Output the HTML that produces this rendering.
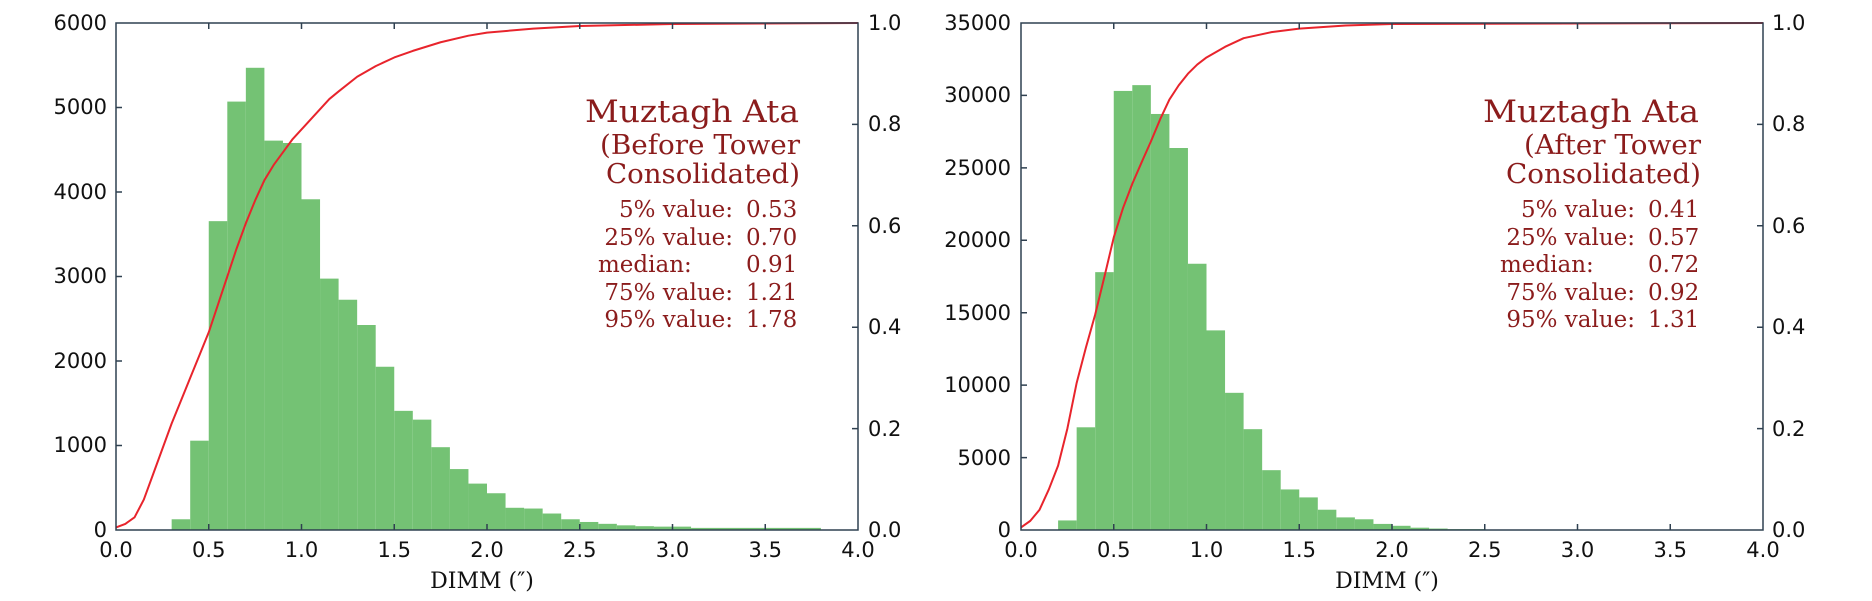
<!DOCTYPE html>
<html><head><meta charset="utf-8"><style>
html,body{margin:0;padding:0;background:#fff;}
svg{display:block}
.tk{font-family:"DejaVu Sans","Liberation Sans",sans-serif;font-size:21px;fill:#111}
.sr{font-family:"DejaVu Serif","Liberation Serif",serif;fill:#8b1c1c}
</style></head><body>
<svg width="1872" height="601" viewBox="0 0 1872 601" xmlns="http://www.w3.org/2000/svg">
<!-- LEFT -->
<g transform="translate(116,530) scale(185.5,-0.0845)" fill="#74c274">
<rect x="0.3" y="0" width="0.1" height="127"/>
<rect x="0.4" y="0" width="0.1" height="1057"/>
<rect x="0.5" y="0" width="0.1" height="3655"/>
<rect x="0.6" y="0" width="0.1" height="5070"/>
<rect x="0.7" y="0" width="0.1" height="5470"/>
<rect x="0.8" y="0" width="0.1" height="4608"/>
<rect x="0.9" y="0" width="0.1" height="4580"/>
<rect x="1.0" y="0" width="0.1" height="3914"/>
<rect x="1.1" y="0" width="0.1" height="2975"/>
<rect x="1.2" y="0" width="0.1" height="2725"/>
<rect x="1.3" y="0" width="0.1" height="2426"/>
<rect x="1.4" y="0" width="0.1" height="1932"/>
<rect x="1.5" y="0" width="0.1" height="1410"/>
<rect x="1.6" y="0" width="0.1" height="1306"/>
<rect x="1.7" y="0" width="0.1" height="980"/>
<rect x="1.8" y="0" width="0.1" height="721"/>
<rect x="1.9" y="0" width="0.1" height="549"/>
<rect x="2.0" y="0" width="0.1" height="435"/>
<rect x="2.1" y="0" width="0.1" height="263"/>
<rect x="2.2" y="0" width="0.1" height="254"/>
<rect x="2.3" y="0" width="0.1" height="195"/>
<rect x="2.4" y="0" width="0.1" height="127"/>
<rect x="2.5" y="0" width="0.1" height="95"/>
<rect x="2.6" y="0" width="0.1" height="73"/>
<rect x="2.7" y="0" width="0.1" height="55"/>
<rect x="2.8" y="0" width="0.1" height="45"/>
<rect x="2.9" y="0" width="0.1" height="40"/>
<rect x="3.0" y="0" width="0.1" height="40"/>
<rect x="3.1" y="0" width="0.7" height="25"/>
</g>
<g transform="translate(116,530) scale(185.5,-507)">
<polyline fill="none" stroke="#e8242c" stroke-width="2" stroke-linejoin="round" vector-effect="non-scaling-stroke" points="0,0.005 0.05,0.012 0.1,0.025 0.15,0.06 0.2,0.11 0.25,0.16 0.3,0.21 0.35,0.255 0.4,0.3 0.45,0.345 0.5,0.39 0.55,0.445 0.6,0.5 0.65,0.555 0.7,0.605 0.75,0.65 0.8,0.69 0.85,0.72 0.9,0.745 0.95,0.77 1.0,0.79 1.05,0.81 1.1,0.83 1.15,0.85 1.2,0.865 1.3,0.894 1.4,0.915 1.5,0.932 1.6,0.945 1.75,0.962 1.9,0.975 2.0,0.981 2.25,0.989 2.5,0.994 3.0,0.998 4.0,1"/>
</g>
<g stroke="#2f4050" stroke-width="1.5" fill="none">
<rect x="116" y="23" width="742" height="507"/>
<path d="M208.75 530v-6M301.5 530v-6M394.25 530v-6M487 530v-6M579.75 530v-6M672.5 530v-6M765.25 530v-6M208.75 23v6M301.5 23v6M394.25 23v6M487 23v6M579.75 23v6M672.5 23v6M765.25 23v6
M116 445.5h6M116 361h6M116 276.5h6M116 192h6M116 107.5h6
M858 428.6h-6M858 327.2h-6M858 225.8h-6M858 124.4h-6"/>
</g>
<g class="tk" text-anchor="end">
<text x="107" y="537">0</text><text x="107" y="452">1000</text><text x="107" y="368">2000</text><text x="107" y="283">3000</text><text x="107" y="199">4000</text><text x="107" y="114">5000</text><text x="107" y="30">6000</text>
</g>
<g class="tk">
<text x="868" y="537">0.0</text><text x="868" y="436">0.2</text><text x="868" y="334">0.4</text><text x="868" y="233">0.6</text><text x="868" y="131">0.8</text><text x="868" y="30">1.0</text>
</g>
<g class="tk" text-anchor="middle">
<text x="116" y="557">0.0</text><text x="208.75" y="557">0.5</text><text x="301.5" y="557">1.0</text><text x="394.25" y="557">1.5</text><text x="487" y="557">2.0</text><text x="579.75" y="557">2.5</text><text x="672.5" y="557">3.0</text><text x="765.25" y="557">3.5</text><text x="858" y="557">4.0</text>
</g>
<text x="482" y="588" text-anchor="middle" font-family="'DejaVu Serif','Liberation Serif',serif" font-size="22" fill="#111">DIMM (″)</text>
<g class="sr">
<text x="585" y="122" font-size="31" textLength="214" lengthAdjust="spacingAndGlyphs">Muztagh Ata</text>
<text x="800" y="154" font-size="27" text-anchor="end" textLength="200" lengthAdjust="spacingAndGlyphs">(Before Tower</text>
<text x="800" y="183" font-size="27" text-anchor="end" textLength="194" lengthAdjust="spacingAndGlyphs">Consolidated)</text>
<g font-size="23">
<text x="733" y="217" text-anchor="end">5% value:</text><text x="746" y="217">0.53</text>
<text x="733" y="245" text-anchor="end">25% value:</text><text x="746" y="245">0.70</text>
<text x="598" y="272">median:</text><text x="746" y="272">0.91</text>
<text x="733" y="300" text-anchor="end">75% value:</text><text x="746" y="300">1.21</text>
<text x="733" y="327" text-anchor="end">95% value:</text><text x="746" y="327">1.78</text>
</g>
</g>

<!-- RIGHT -->
<g transform="translate(1021,530) scale(185.5,-0.014486)" fill="#74c274">
<rect x="0.2" y="0" width="0.1" height="660"/>
<rect x="0.3" y="0" width="0.1" height="7090"/>
<rect x="0.4" y="0" width="0.1" height="17800"/>
<rect x="0.5" y="0" width="0.1" height="30310"/>
<rect x="0.6" y="0" width="0.1" height="30710"/>
<rect x="0.7" y="0" width="0.1" height="28720"/>
<rect x="0.8" y="0" width="0.1" height="26370"/>
<rect x="0.9" y="0" width="0.1" height="18380"/>
<rect x="1.0" y="0" width="0.1" height="13780"/>
<rect x="1.1" y="0" width="0.1" height="9470"/>
<rect x="1.2" y="0" width="0.1" height="6960"/>
<rect x="1.3" y="0" width="0.1" height="4130"/>
<rect x="1.4" y="0" width="0.1" height="2800"/>
<rect x="1.5" y="0" width="0.1" height="2250"/>
<rect x="1.6" y="0" width="0.1" height="1400"/>
<rect x="1.7" y="0" width="0.1" height="870"/>
<rect x="1.8" y="0" width="0.1" height="740"/>
<rect x="1.9" y="0" width="0.1" height="420"/>
<rect x="2.0" y="0" width="0.1" height="290"/>
<rect x="2.1" y="0" width="0.1" height="160"/>
<rect x="2.2" y="0" width="0.1" height="100"/>
<rect x="2.3" y="0" width="0.2" height="60"/>
</g>
<g transform="translate(1021,530) scale(185.5,-507)">
<polyline fill="none" stroke="#e8242c" stroke-width="2" stroke-linejoin="round" vector-effect="non-scaling-stroke" points="0,0.005 0.05,0.018 0.1,0.04 0.15,0.08 0.2,0.127 0.25,0.2 0.3,0.29 0.35,0.36 0.4,0.425 0.45,0.5 0.5,0.577 0.55,0.635 0.6,0.683 0.65,0.725 0.7,0.766 0.75,0.81 0.8,0.849 0.85,0.877 0.9,0.9 0.95,0.918 1.0,0.932 1.1,0.953 1.2,0.97 1.35,0.982 1.5,0.989 1.75,0.995 2.0,0.998 4.0,1"/>
</g>
<g stroke="#2f4050" stroke-width="1.5" fill="none">
<rect x="1021" y="23" width="742" height="507"/>
<path d="M1113.75 530v-6M1206.5 530v-6M1299.25 530v-6M1392 530v-6M1484.75 530v-6M1577.5 530v-6M1670.25 530v-6M1113.75 23v6M1206.5 23v6M1299.25 23v6M1392 23v6M1484.75 23v6M1577.5 23v6M1670.25 23v6
M1021 457.6h6M1021 385.1h6M1021 312.7h6M1021 240.3h6M1021 167.9h6M1021 95.4h6
M1763 428.6h-6M1763 327.2h-6M1763 225.8h-6M1763 124.4h-6"/>
</g>
<g class="tk" text-anchor="end">
<text x="1011" y="537">0</text><text x="1011" y="465">5000</text><text x="1011" y="392">10000</text><text x="1011" y="320">15000</text><text x="1011" y="247">20000</text><text x="1011" y="175">25000</text><text x="1011" y="102">30000</text><text x="1011" y="30">35000</text>
</g>
<g class="tk">
<text x="1772" y="537">0.0</text><text x="1772" y="436">0.2</text><text x="1772" y="334">0.4</text><text x="1772" y="233">0.6</text><text x="1772" y="131">0.8</text><text x="1772" y="30">1.0</text>
</g>
<g class="tk" text-anchor="middle">
<text x="1021" y="557">0.0</text><text x="1113.75" y="557">0.5</text><text x="1206.5" y="557">1.0</text><text x="1299.25" y="557">1.5</text><text x="1392" y="557">2.0</text><text x="1484.75" y="557">2.5</text><text x="1577.5" y="557">3.0</text><text x="1670.25" y="557">3.5</text><text x="1763" y="557">4.0</text>
</g>
<text x="1387" y="588" text-anchor="middle" font-family="'DejaVu Serif','Liberation Serif',serif" font-size="22" fill="#111">DIMM (″)</text>
<g class="sr">
<text x="1483" y="122" font-size="31" textLength="216" lengthAdjust="spacingAndGlyphs">Muztagh Ata</text>
<text x="1701" y="154" font-size="27" text-anchor="end" textLength="177" lengthAdjust="spacingAndGlyphs">(After Tower</text>
<text x="1701" y="183" font-size="27" text-anchor="end" textLength="195" lengthAdjust="spacingAndGlyphs">Consolidated)</text>
<g font-size="23">
<text x="1635" y="217" text-anchor="end">5% value:</text><text x="1648" y="217">0.41</text>
<text x="1635" y="245" text-anchor="end">25% value:</text><text x="1648" y="245">0.57</text>
<text x="1500" y="272">median:</text><text x="1648" y="272">0.72</text>
<text x="1635" y="300" text-anchor="end">75% value:</text><text x="1648" y="300">0.92</text>
<text x="1635" y="327" text-anchor="end">95% value:</text><text x="1648" y="327">1.31</text>
</g>
</g>
</svg>
</body></html>
